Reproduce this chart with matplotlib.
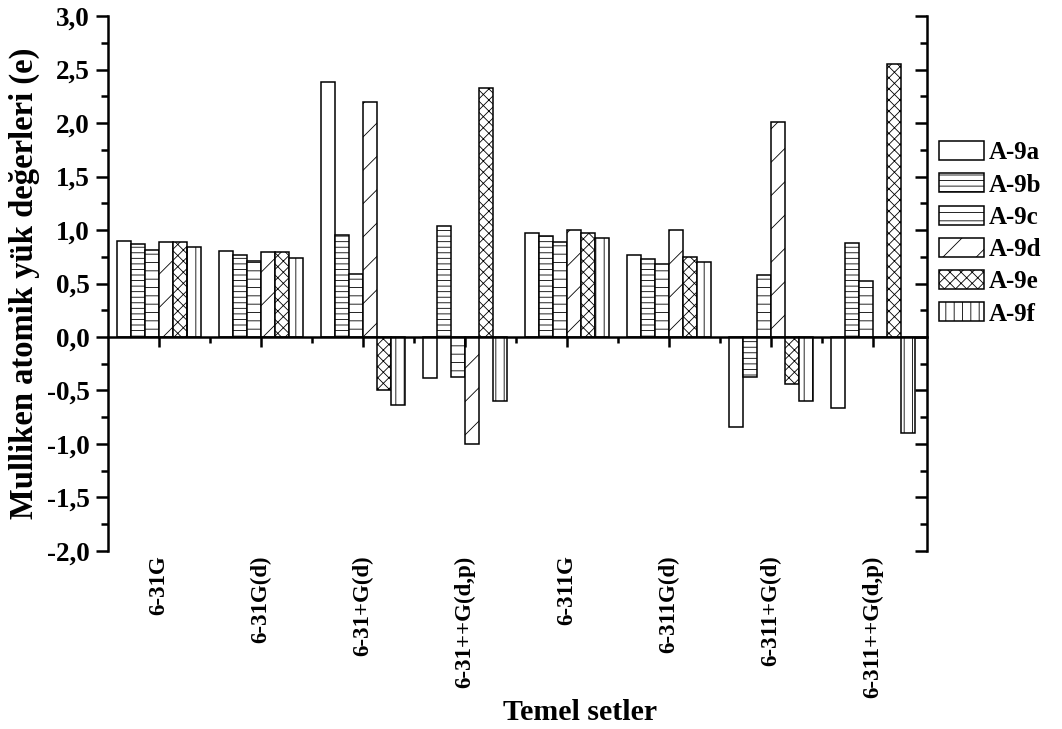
import matplotlib.pyplot as plt
from matplotlib.ticker import MultipleLocator, FuncFormatter
import numpy as np

plt.rcParams['font.family'] = ['Liberation Serif', 'DejaVu Serif']
plt.rcParams['font.weight'] = 'bold'
plt.rcParams['hatch.linewidth'] = 0.6

basis_sets = ["6-31G", "6-31G(d)", "6-31+G(d)", "6-31++G(d,p)",
              "6-311G", "6-311G(d)", "6-311+G(d)", "6-311++G(d,p)"]

a9a = [0.90, 0.80, 2.38, -0.38, 0.97, 0.77, -0.84, -0.66]
a9b = [0.87, 0.77, 0.95, 1.04, 0.94, 0.73, -0.37, 0.88]
a9c = [0.81, 0.71, 0.59, -0.37, 0.89, 0.68, 0.58, 0.52]
a9d = [0.89, 0.79, 2.20, -1.00, 1.00, 1.00, 2.01, 0.00]
a9e = [0.89, 0.79, -0.50, 2.33, 0.97, 0.75, -0.44, 2.55]
a9f = [0.84, 0.74, -0.64, -0.60, 0.93, 0.70, -0.60, -0.90]

series = [("A-9a", a9a, ""), ("A-9b", a9b, "---"), ("A-9c", a9c, "--"),
          ("A-9d", a9d, "/"), ("A-9e", a9e, "xxx"), ("A-9f", a9f, "||")]

fig = plt.figure(figsize=(10.62, 7.29), dpi=100)
ax = fig.add_axes([0.1017, 0.2442, 0.7713, 0.7338])

x = np.arange(1, len(basis_sets) + 1)
w = 0.137
for k, (name, vals, hatch) in enumerate(series):
    ax.bar(x + (k - 2.5) * w, vals, width=w, facecolor="white",
           edgecolor="black", linewidth=1.1, hatch=hatch, label=name)

ax.set_xlim(0.5, 8.53)
ax.set_ylim(-2.0, 3.0)

# x axis sits on zero, labels hang below the plot
ax.spines['top'].set_visible(False)
ax.spines['bottom'].set_position(('data', 0))
for s in ['left', 'right', 'bottom']:
    ax.spines[s].set_linewidth(1.8)

ax.set_xticks(x)
ax.set_xticks(x[:-1] + 0.5, minor=True)
ax.tick_params(axis='x', which='major', direction='out', length=7, width=1.8,
               labelbottom=False)
ax.tick_params(axis='x', which='minor', direction='out', length=4, width=1.8)
for xi, lab in zip(x, basis_sets):
    ax.text(xi, -0.008, lab, transform=ax.get_xaxis_transform(),
            rotation=90, ha='center', va='top', fontsize=16.5,
            fontweight='bold')

ax.yaxis.set_major_locator(MultipleLocator(0.5))
ax.yaxis.set_minor_locator(MultipleLocator(0.25))
ax.yaxis.set_major_formatter(FuncFormatter(lambda v, p: f"{v:.1f}".replace('.', ',')))
ax.tick_params(axis='y', which='major', direction='out', length=9, width=1.8,
               labelsize=19.5, left=True, pad=4)
ax.tick_params(axis='y', which='minor', direction='out', length=5, width=1.8)

# inward ticks on the right spine
ax2 = ax.twinx()
ax2.set_ylim(ax.get_ylim())
ax2.yaxis.set_major_locator(MultipleLocator(0.5))
ax2.yaxis.set_minor_locator(MultipleLocator(0.25))
ax2.tick_params(axis='y', which='major', direction='in', length=9, width=1.8,
                labelright=False)
ax2.tick_params(axis='y', which='minor', direction='in', length=5, width=1.8)
for s in ax2.spines.values():
    s.set_visible(False)

ax.set_ylabel("Mulliken atomik yük değerleri (e)", fontsize=23.5,
              fontweight='bold', labelpad=5)
fig.text(0.546, 0.023, "Temel setler", ha='center', va='center',
         fontsize=21.5, fontweight='bold')

ax.legend(loc='upper left', bbox_to_anchor=(1.002, 0.785), frameon=False,
          fontsize=18, handlelength=1.8, handleheight=0.8,
          labelspacing=0.36, handletextpad=0.2, borderaxespad=0)

fig.savefig("out.png", dpi=100)
